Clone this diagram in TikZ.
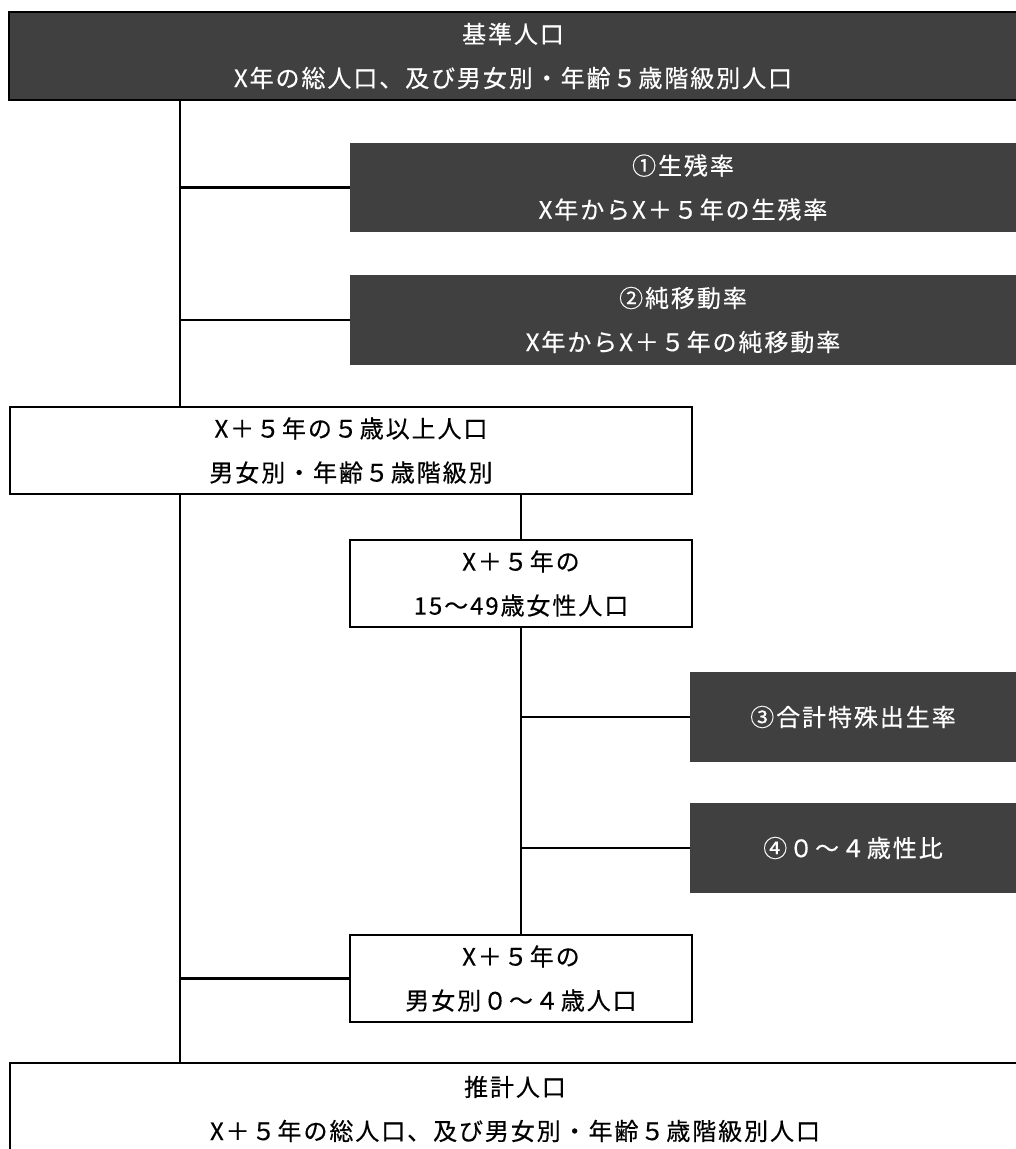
\documentclass[tikz,border=0pt]{standalone}
\usepackage{fontspec}
\setmainfont[LetterSpace=8, FakeBold=0.4]{Noto Sans CJK JP}
\definecolor{boxgray}{HTML}{404040}

\tikzset{
  darkbox/.style={fill=boxgray, text=white, align=center, inner sep=0pt},
  linebox/.style={draw, line width=2.5pt, fill=white, align=center, inner sep=0pt},
  link/.style={line width=2.4pt},
}

\begin{document}
\begin{tikzpicture}[x=1pt, y=-1pt, font=\fontsize{24}{44}\selectfont]

\useasboundingbox (0,0) rectangle (1016,1149);

\node[darkbox, draw=black, line width=2.5pt, minimum width=1008pt, minimum height=88pt] (base) at (513,56) {基準人口\\X年の総人口、及び男女別・年齢５歳階級別人口};

\node[darkbox, minimum width=666pt, minimum height=89pt] (surv) at (683,187.5) {①生残率\\X年からX＋５年の生残率};
\node[darkbox, minimum width=666pt, minimum height=90pt] (migr) at (683,320) {②純移動率\\X年からX＋５年の純移動率};

\node[linebox, minimum width=682pt, minimum height=87pt] (over5) at (351,450.5) {X＋５年の５歳以上人口\\男女別・年齢５歳階級別};
\node[linebox, minimum width=342pt, minimum height=87pt] (women) at (521,583.5) {X＋５年の\\15～49歳女性人口};

\node[darkbox, minimum width=326pt, minimum height=90pt] (tfr) at (853,717) {③合計特殊出生率};
\node[darkbox, minimum width=326pt, minimum height=90pt] (ratio) at (853,848) {④０～４歳性比};

\node[linebox, minimum width=342pt, minimum height=87pt] (under5) at (521,978.5) {X＋５年の\\男女別０～４歳人口};

\node[linebox, minimum width=1010pt, minimum height=92pt] (est) at (515,1109) {推計人口\\X＋５年の総人口、及び男女別・年齢５歳階級別人口};

\coordinate (tr) at (180,0);

\draw[link] (base.south -| tr) -- (over5.north -| tr);
\draw[link] (over5.south -| tr) -- (est.north -| tr);
\draw[link] (surv.west -| tr) -- (surv.west);
\draw[link] (migr.west -| tr) -- (migr.west);
\draw[link] (under5.west -| tr) -- (under5.west);

\draw[link] (over5.south -| women.north) -- (women.north);
\draw[link] (women.south) -- (under5.north);
\draw[link] (tfr.west -| women.south) -- (tfr.west);
\draw[link] (ratio.west -| women.south) -- (ratio.west);

\end{tikzpicture}
\end{document}
